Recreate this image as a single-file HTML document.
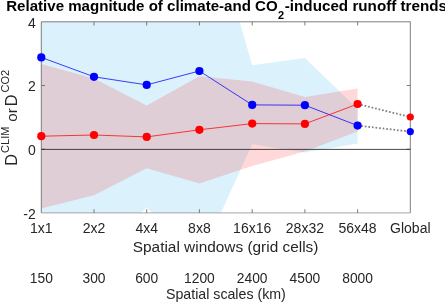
<!DOCTYPE html>
<html>
<head>
<meta charset="utf-8">
<title>Relative magnitude of climate-and CO2-induced runoff trends</title>
<style>
html,body{margin:0;padding:0;background:#fff;}
body{width:445px;height:302px;overflow:hidden;font-family:"Liberation Sans",sans-serif;}
svg{display:block;will-change:transform;}
text{font-family:"Liberation Sans",sans-serif;fill:#262626;}
.t{font-size:14px;}
.l{font-size:15.4px;}
</style>
</head>
<body>
<svg width="445" height="302" viewBox="0 0 445 302">
<defs>
<clipPath id="ax"><rect x="41.3" y="21.8" width="369.0" height="191.1"/></clipPath>
</defs>
<rect x="0" y="0" width="445" height="302" fill="#ffffff"/>
<!-- shaded bands -->
<g clip-path="url(#ax)">
<polygon fill="#4dbeee" fill-opacity="0.2" points="41.3,-60.0 94.0,-60.0 146.7,-60.0 199.4,-119.0 252.2,65.3 304.9,58.1 357.6,108.8 357.6,143.5 304.9,152.5 252.2,144.2 199.4,260.0 146.7,207.6 94.0,254.0 41.3,254.0"/>
<polygon fill="#ff0000" fill-opacity="0.15" points="41.3,63.9 94.0,78.4 146.7,105.5 199.4,76.2 252.2,81.5 304.9,97.1 357.6,88.4 357.6,131.6 304.9,151.5 252.2,166.0 199.4,183.5 146.7,168.3 94.0,195.3 41.3,208.4"/>
</g>
<!-- axes box -->
<path d="M41.3,212.9V21.8H410.3V212.9" fill="none" stroke="#666666" stroke-width="0.85"/>
<line x1="41.3" y1="212.9" x2="410.3" y2="212.9" stroke="#8a8a8a" stroke-width="0.75"/>
<g stroke="#666666" stroke-width="0.85" fill="none">
<path d="M94.0,212.9v-3.7M146.7,212.9v-3.7M199.4,212.9v-3.7M252.2,212.9v-3.7M304.9,212.9v-3.7M357.6,212.9v-3.7"/>
<path d="M94.0,21.8v3.7M146.7,21.8v3.7M199.4,21.8v3.7M252.2,21.8v3.7M304.9,21.8v3.7M357.6,21.8v3.7"/>
<path d="M41.3,85.5h3.7M41.3,149.2h3.7M410.3,85.5h-3.7M410.3,149.2h-3.7"/>
</g>
<!-- zero line -->
<line x1="41.3" y1="149.4" x2="410.3" y2="149.4" stroke="#1a1a1a" stroke-width="0.8"/>
<!-- dotted connectors -->
<g stroke="#808080" stroke-width="1.8" stroke-dasharray="1.7 1.9" fill="none">
<line x1="357.6" y1="104.0" x2="410.3" y2="117.0"/>
<line x1="357.6" y1="125.6" x2="410.3" y2="131.6"/>
</g>
<!-- lines -->
<polyline fill="none" stroke="#0000ff" stroke-width="0.75" points="41.3,57.4 94.0,76.8 146.7,84.9 199.4,71.0 252.2,104.9 304.9,105.2 357.6,125.6"/>
<polyline fill="none" stroke="#ff0000" stroke-width="0.75" points="41.3,136.2 94.0,135.0 146.7,136.9 199.4,129.8 252.2,123.6 304.9,123.9 357.6,104.0"/>
<!-- markers -->
<g fill="#0000ff">
<circle cx="41.3" cy="57.4" r="4.1"/><circle cx="94.0" cy="76.8" r="4.1"/><circle cx="146.7" cy="84.9" r="4.1"/><circle cx="199.4" cy="71.0" r="4.1"/><circle cx="252.2" cy="104.9" r="4.1"/><circle cx="304.9" cy="105.2" r="4.1"/><circle cx="357.6" cy="125.6" r="4.1"/>
<circle cx="410.3" cy="131.6" r="3.6"/>
</g>
<g fill="#ff0000">
<circle cx="41.3" cy="136.2" r="4.1"/><circle cx="94.0" cy="135.0" r="4.1"/><circle cx="146.7" cy="136.9" r="4.1"/><circle cx="199.4" cy="129.8" r="4.1"/><circle cx="252.2" cy="123.6" r="4.1"/><circle cx="304.9" cy="123.9" r="4.1"/><circle cx="357.6" cy="104.0" r="4.1"/>
<circle cx="410.3" cy="117.0" r="3.6"/>
</g>
<!-- title -->
<g font-weight="bold" font-size="14.67" style="fill:#000">
<text x="6.2" y="10.7" textLength="271.5" lengthAdjust="spacingAndGlyphs" style="fill:#000">Relative magnitude of climate-and CO</text>
<text x="277.9" y="18.6" font-size="11" style="fill:#000">2</text>
<text x="284.8" y="10.7" textLength="162.2" lengthAdjust="spacingAndGlyphs" style="fill:#000">-induced runoff trends</text>
</g>
<!-- y tick labels -->
<g class="t" text-anchor="end">
<text x="35.8" y="27.7">4</text><text x="35.8" y="91.4">2</text><text x="35.8" y="155.1">0</text><text x="35.8" y="218.8">-2</text>
</g>
<!-- x tick labels -->
<g class="t" text-anchor="middle">
<text x="41.3" y="232.8">1x1</text><text x="94.0" y="232.8">2x2</text><text x="146.7" y="232.8">4x4</text><text x="199.4" y="232.8">8x8</text><text x="252.2" y="232.8">16x16</text><text x="304.9" y="232.8">28x32</text><text x="357.6" y="232.8">56x48</text><text x="410.3" y="232.8">Global</text>
<text x="41.3" y="283.1" font-size="13.8">150</text><text x="94.0" y="283.1" font-size="13.8">300</text><text x="146.7" y="283.1" font-size="13.8">600</text><text x="199.4" y="283.1" font-size="13.8">1200</text><text x="252.2" y="283.1" font-size="13.8">2400</text><text x="304.9" y="283.1" font-size="13.8">4500</text><text x="357.6" y="283.1" font-size="13.8">8000</text>
</g>
<g class="l" text-anchor="middle">
<text x="225.6" y="252">Spatial windows (grid cells)</text>
<text x="225.9" y="298.7" font-size="14.2">Spatial scales (km)</text>
<text transform="translate(16.6,165.8) rotate(-90)" text-anchor="start" font-size="16.2"><tspan x="0" y="0">D</tspan><tspan x="12.9" y="-7.3" font-size="11">CLIM</tspan><tspan x="44.0" y="0" font-size="15.2">or</tspan><tspan x="59.6" y="0">D</tspan><tspan x="73.4" y="-7.3" font-size="11">CO2</tspan></text>
</g>
</svg>
</body>
</html>
